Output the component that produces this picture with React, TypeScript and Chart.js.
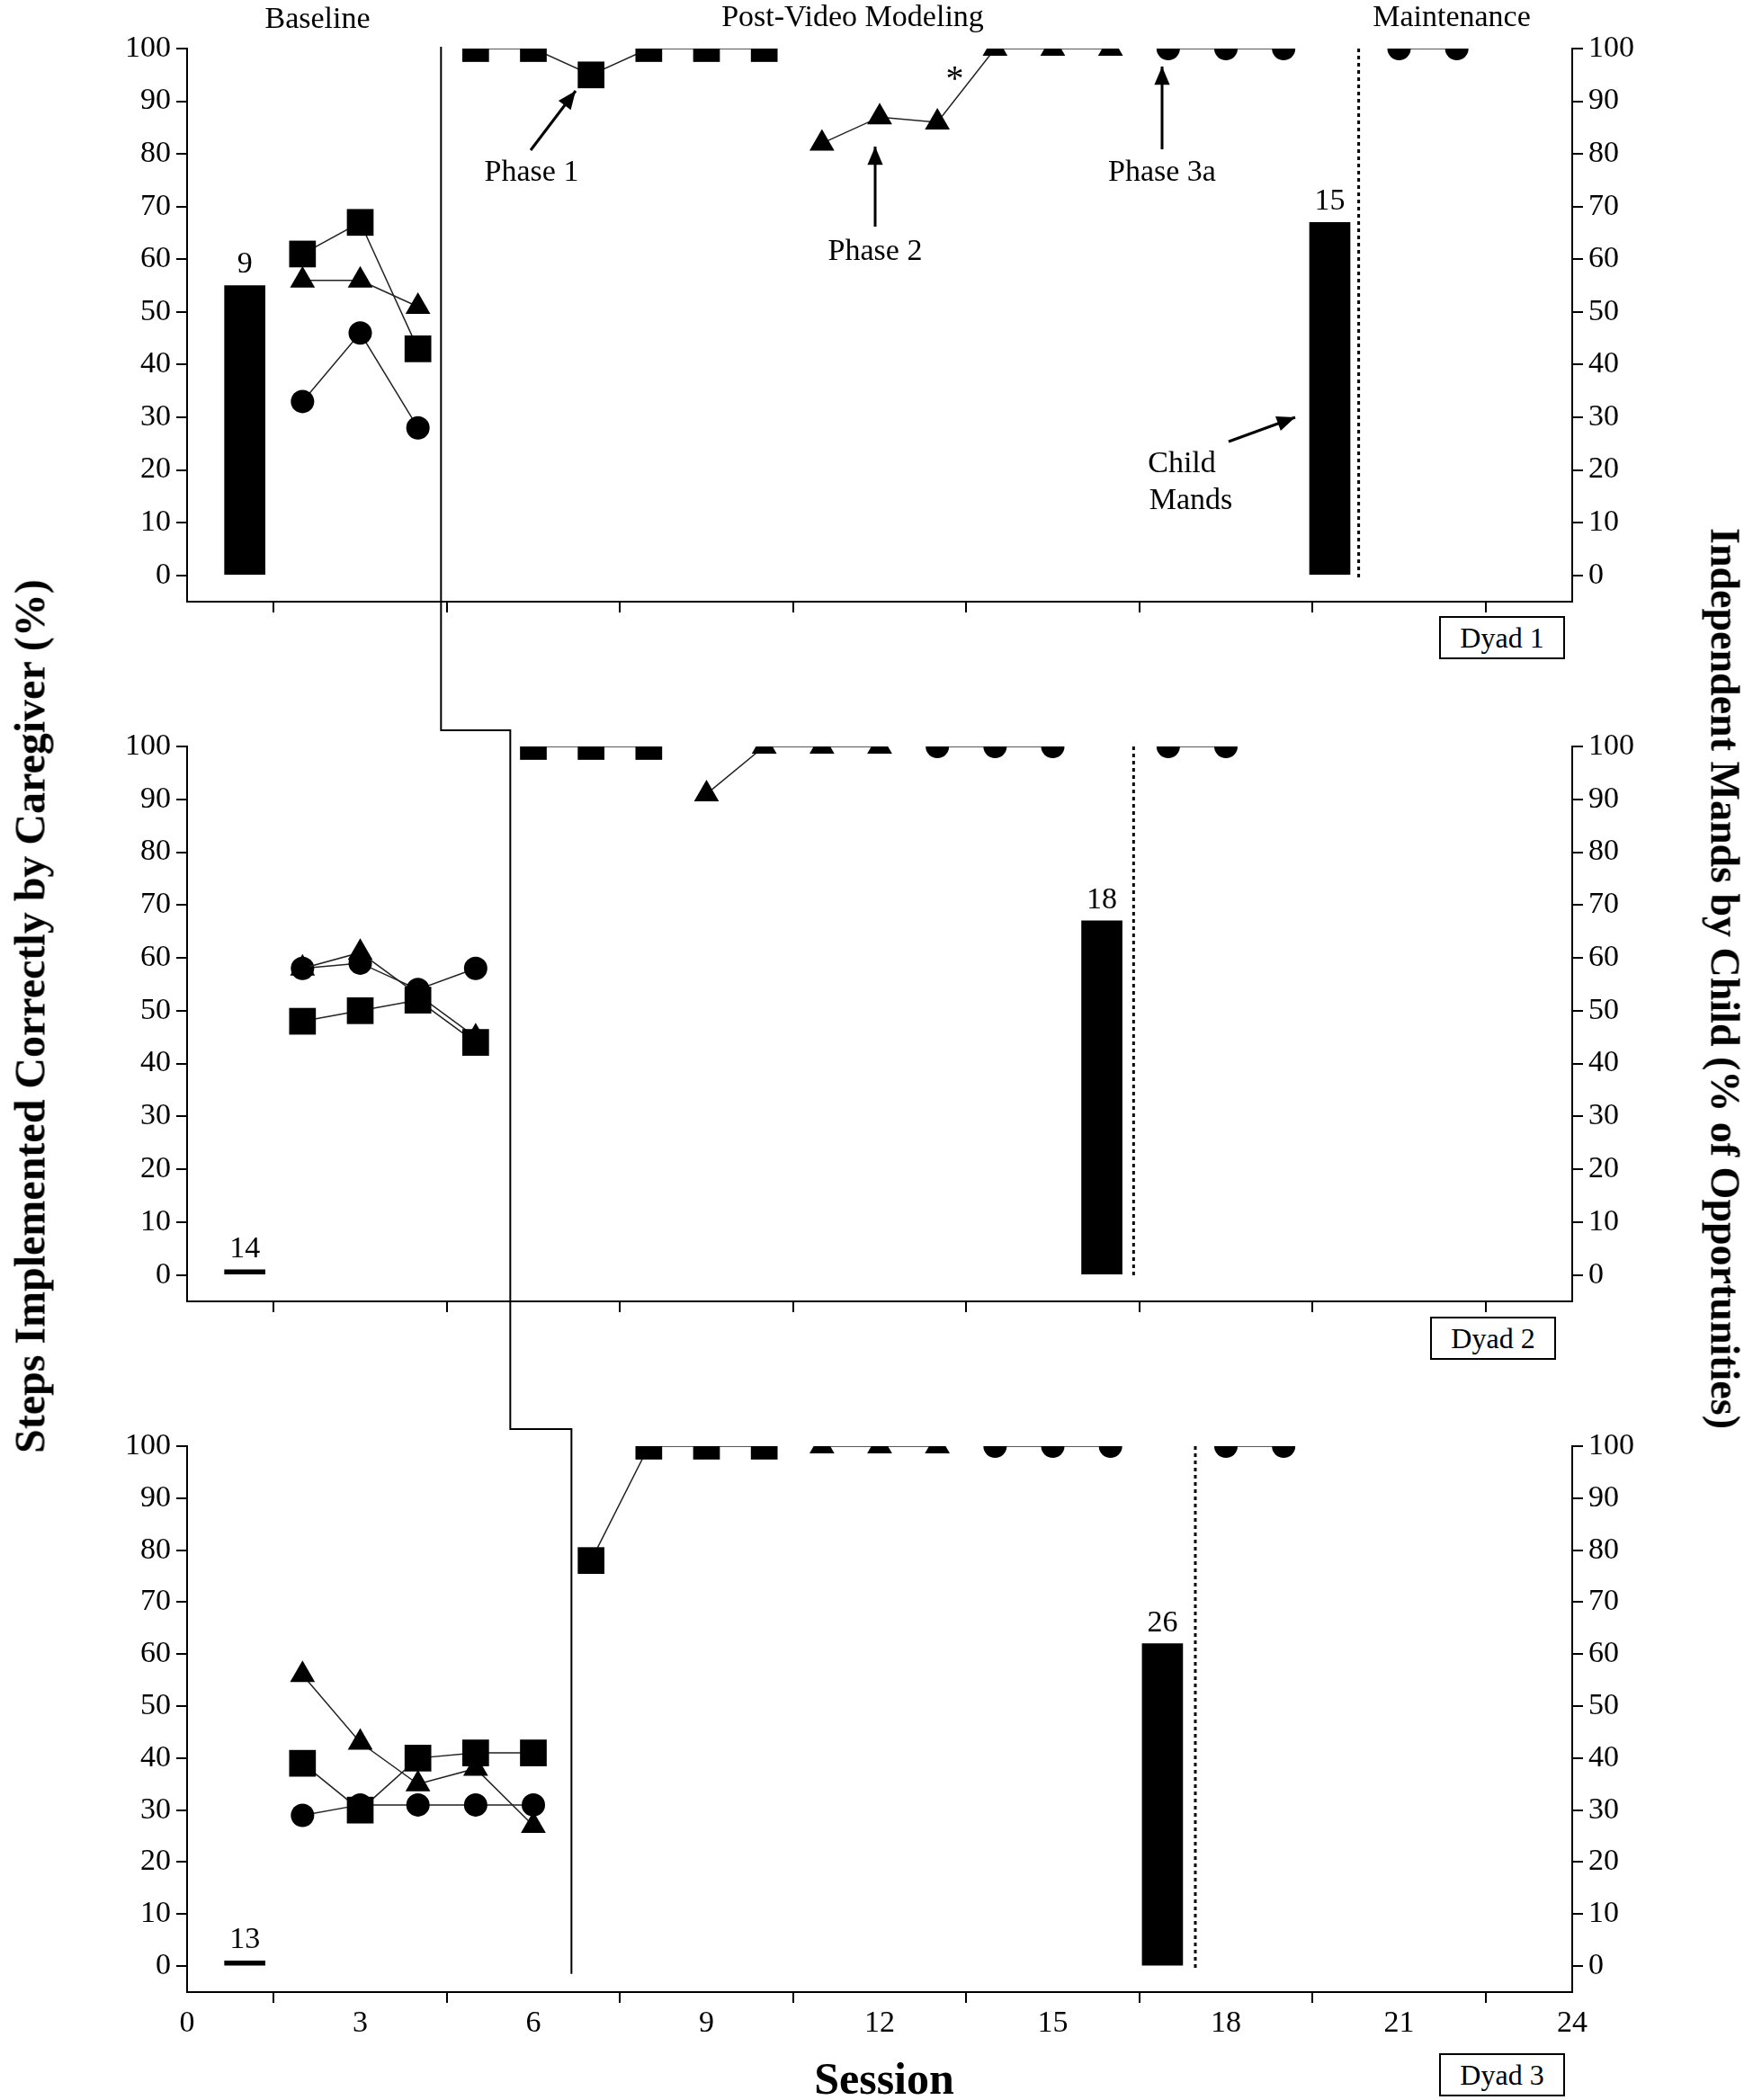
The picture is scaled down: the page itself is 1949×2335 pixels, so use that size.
import React, { useEffect, useRef } from "react";
import { Chart, registerables } from "chart.js";
Chart.register(...registerables);

const FONT = "'Liberation Serif', 'Times New Roman', serif";

// ---------- Dyad 1 ----------
const d1BarX = [1, 19.8];
const d1BarY = [55, 67];
const d1BarLabels = ["9", "15"];
const d1SqBaseX = [2, 3, 4];
const d1SqBaseY = [61, 67, 43];
const d1TriBaseX = [2, 3, 4];
const d1TriBaseY = [56, 56, 51];
const d1CirBaseX = [2, 3, 4];
const d1CirBaseY = [33, 46, 28];
const d1SqPostX = [5, 6, 7, 8, 9, 10];
const d1SqPostY = [100, 100, 95, 100, 100, 100];
const d1TriPostX = [11, 12, 13, 14, 15, 16];
const d1TriPostY = [82, 87, 86, 100, 100, 100];
const d1CirPostX = [17, 18, 19];
const d1CirPostY = [100, 100, 100];
const d1CirMaintX = [21, 22];
const d1CirMaintY = [100, 100];

// ---------- Dyad 2 ----------
const d2BarX = [1, 15.85];
const d2BarY = [1, 67];
const d2BarLabels = ["14", "18"];
const d2SqBaseX = [2, 3, 4, 5];
const d2SqBaseY = [48, 50, 52, 44];
const d2TriBaseX = [2, 3, 4, 5];
const d2TriBaseY = [58, 61, 53, 45];
const d2CirBaseX = [2, 3, 4, 5];
const d2CirBaseY = [58, 59, 54, 58];
const d2SqPostX = [6, 7, 8];
const d2SqPostY = [100, 100, 100];
const d2TriPostX = [9, 10, 11, 12];
const d2TriPostY = [91, 100, 100, 100];
const d2CirPostX = [13, 14, 15];
const d2CirPostY = [100, 100, 100];
const d2CirMaintX = [17, 18];
const d2CirMaintY = [100, 100];

// ---------- Dyad 3 ----------
const d3BarX = [1, 16.9];
const d3BarY = [1, 62];
const d3BarLabels = ["13", "26"];
const d3SqBaseX = [2, 3, 4, 5, 6];
const d3SqBaseY = [39, 30, 40, 41, 41];
const d3TriBaseX = [2, 3, 4, 5, 6];
const d3TriBaseY = [56, 43, 35, 38, 27];
const d3CirBaseX = [2, 3, 4, 5, 6];
const d3CirBaseY = [29, 31, 31, 31, 31];
const d3SqPostX = [7, 8, 9, 10];
const d3SqPostY = [78, 100, 100, 100];
const d3TriPostX = [11, 12, 13];
const d3TriPostY = [100, 100, 100];
const d3CirPostX = [14, 15, 16];
const d3CirPostY = [100, 100, 100];
const d3CirMaintX = [18, 19];
const d3CirMaintY = [100, 100];

const xTicks = [0, 3, 6, 9, 12, 15, 18, 21, 24];
const yTicks = [0, 10, 20, 30, 40, 50, 60, 70, 80, 90, 100];

// phase change lines (session units)
const phase1X = 4.4;
const phase2X = 5.6;
const phase3X = 6.66;
const maintX = [20.3, 16.4, 17.47];

const pts = (xs: number[], ys: number[]) => xs.map((x, i) => ({ x, y: ys[i] }));

function lineDs(xs: number[], ys: number[], style: string) {
  const r = style === "rect" ? 21 : style === "triangle" ? 16 : 13;
  return {
    type: "line" as const,
    data: pts(xs, ys),
    borderColor: "#222",
    borderWidth: 1.5,
    pointStyle: style,
    pointRadius: r,
    pointBackgroundColor: "#000",
    pointBorderColor: "#000",
    pointBorderWidth: 0,
    showLine: true,
    fill: false,
  };
}

type Panel = {
  bars: [number[], number[], string[]];
  series: [number[], number[], string][];
  showXLabels: boolean;
  height: number;
  padTop: number;
  xAxisH: number;
  padBottom: number;
  maint: number;
  phase: (ctx: CanvasRenderingContext2D, xs: any, ys: any, ca: any, h: number) => void;
  extra?: (ctx: CanvasRenderingContext2D, xs: any, ys: any) => void;
};

function arrow(ctx: CanvasRenderingContext2D, x1: number, y1: number, x2: number, y2: number) {
  ctx.beginPath();
  ctx.moveTo(x1, y1);
  ctx.lineTo(x2, y2);
  ctx.lineWidth = 3;
  ctx.stroke();
  const a = Math.atan2(y2 - y1, x2 - x1);
  const L = 22, W = 0.4;
  ctx.beginPath();
  ctx.moveTo(x2, y2);
  ctx.lineTo(x2 - L * Math.cos(a - W), y2 - L * Math.sin(a - W));
  ctx.lineTo(x2 - L * Math.cos(a + W), y2 - L * Math.sin(a + W));
  ctx.closePath();
  ctx.fill();
}

const panels: Panel[] = [
  {
    bars: [d1BarX, d1BarY, d1BarLabels],
    series: [
      [d1SqBaseX, d1SqBaseY, "rect"],
      [d1TriBaseX, d1TriBaseY, "triangle"],
      [d1CirBaseX, d1CirBaseY, "circle"],
      [d1SqPostX, d1SqPostY, "rect"],
      [d1TriPostX, d1TriPostY, "triangle"],
      [d1CirPostX, d1CirPostY, "circle"],
      [d1CirMaintX, d1CirMaintY, "circle"],
    ],
    showXLabels: false,
    height: 800,
    padTop: 54,
    xAxisH: 30,
    padBottom: 101,
    maint: maintX[0],
    phase: (ctx, xs, ys, ca, h) => {
      const x = xs.getPixelForValue(phase1X);
      ctx.beginPath();
      ctx.moveTo(x, ys.getPixelForValue(100) - 2);
      ctx.lineTo(x, h);
      ctx.stroke();
    },
    extra: (ctx, xs, ys) => {
      ctx.font = `34px ${FONT}`;
      ctx.textAlign = "center";
      ctx.textBaseline = "middle";
      ctx.fillText("Baseline", 353, 22);
      ctx.fillText("Post-Video Modeling", 948, 20);
      ctx.fillText("Maintenance", 1614, 20);
      ctx.fillText("Phase 1", 591, 192);
      ctx.fillText("Phase 2", 973, 280);
      ctx.fillText("Phase 3a", 1292, 192);
      ctx.fillText("Child", 1314, 516);
      ctx.fillText("Mands", 1324, 557);
      ctx.font = `40px ${FONT}`;
      ctx.fillText("*", xs.getPixelForValue(13.3), ys.getPixelForValue(94));
      arrow(ctx, 590, 167, 640, 101);
      arrow(ctx, 973, 252, 973, 163);
      arrow(ctx, 1292, 166, 1292, 74);
      arrow(ctx, 1366, 491, 1440, 464);
    },
  },
  {
    bars: [d2BarX, d2BarY, d2BarLabels],
    series: [
      [d2SqBaseX, d2SqBaseY, "rect"],
      [d2TriBaseX, d2TriBaseY, "triangle"],
      [d2CirBaseX, d2CirBaseY, "circle"],
      [d2SqPostX, d2SqPostY, "rect"],
      [d2TriPostX, d2TriPostY, "triangle"],
      [d2CirPostX, d2CirPostY, "circle"],
      [d2CirMaintX, d2CirMaintY, "circle"],
    ],
    showXLabels: false,
    height: 780,
    padTop: 30,
    xAxisH: 30,
    padBottom: 103,
    maint: maintX[1],
    phase: (ctx, xs, ys, ca, h) => {
      const x1 = xs.getPixelForValue(phase1X);
      const x2 = xs.getPixelForValue(phase2X);
      ctx.beginPath();
      ctx.moveTo(x1, 0);
      ctx.lineTo(x1, 12);
      ctx.lineTo(x2, 12);
      ctx.lineTo(x2, h);
      ctx.stroke();
    },
  },
  {
    bars: [d3BarX, d3BarY, d3BarLabels],
    series: [
      [d3SqBaseX, d3SqBaseY, "rect"],
      [d3TriBaseX, d3TriBaseY, "triangle"],
      [d3CirBaseX, d3CirBaseY, "circle"],
      [d3SqPostX, d3SqPostY, "rect"],
      [d3TriPostX, d3TriPostY, "triangle"],
      [d3CirPostX, d3CirPostY, "circle"],
      [d3CirMaintX, d3CirMaintY, "circle"],
    ],
    showXLabels: true,
    height: 755,
    padTop: 28,
    xAxisH: 60,
    padBottom: 60,
    maint: maintX[2],
    phase: (ctx, xs, ys, ca, h) => {
      const x2 = xs.getPixelForValue(phase2X);
      const x3 = xs.getPixelForValue(phase3X);
      ctx.beginPath();
      ctx.moveTo(x2, 0);
      ctx.lineTo(x2, 9);
      ctx.lineTo(x3, 9);
      ctx.lineTo(x3, ys.getPixelForValue(-1.5));
      ctx.stroke();
    },
  },
];

const tops = [0, 800, 1580];

function PanelChart({ p, top }: { p: Panel; top: number }) {
  const ref = useRef<HTMLCanvasElement>(null);
  useEffect(() => {
    const [bx, by, bl] = p.bars;
    const datasets: any[] = [
      {
        type: "bar",
        data: pts(bx, by),
        backgroundColor: "#000",
        barThickness: 45,
        order: 10,
      },
      ...p.series.map(([xs, ys, s]) => lineDs(xs, ys, s)),
    ];
    const yAxis = (pos: "left" | "right", w: number) => ({
      type: "linear",
      position: pos,
      min: -5,
      max: 100,
      afterBuildTicks: (sc: any) => {
        sc.ticks = yTicks.map((v) => ({ value: v }));
      },
      afterFit: (sc: any) => {
        sc.width = w;
      },
      grid: { drawOnChartArea: false, drawTicks: true, tickLength: 12, color: "#000", lineWidth: 2 },
      border: { display: true, color: "#000", width: 2 },
      ticks: { color: "#000", font: { family: FONT, size: 34 }, padding: 6 },
    });
    const overlay = {
      id: "overlay",
      afterDatasetsDraw(chart: any) {
        const ctx = chart.ctx as CanvasRenderingContext2D;
        const xs = chart.scales.x;
        const ys = chart.scales.y;
        ctx.save();
        ctx.strokeStyle = "#000";
        ctx.fillStyle = "#000";
        ctx.lineWidth = 2;
        p.phase(ctx, xs, ys, chart.chartArea, chart.height);
        // maintenance dotted line
        ctx.setLineDash([4, 4]);
        ctx.lineWidth = 3;
        const mx = xs.getPixelForValue(p.maint);
        ctx.beginPath();
        ctx.moveTo(mx, ys.getPixelForValue(100));
        ctx.lineTo(mx, ys.getPixelForValue(-0.5));
        ctx.stroke();
        ctx.setLineDash([]);
        // bar labels
        ctx.font = `34px ${FONT}`;
        ctx.textAlign = "center";
        ctx.textBaseline = "bottom";
        const meta = chart.getDatasetMeta(0);
        meta.data.forEach((el: any, i: number) => {
          ctx.fillText(bl[i], el.x, el.y - 6);
        });
        if (p.extra) p.extra(ctx, xs, ys);
        ctx.restore();
      },
    };
    const chart = new Chart(ref.current!, {
      type: "bar",
      data: { datasets },
      plugins: [overlay],
      options: {
        animation: false,
        responsive: false,
        devicePixelRatio: 1,
        layout: { padding: { top: p.padTop, bottom: p.padBottom, left: 0, right: 0 } },
        plugins: { legend: { display: false }, tooltip: { enabled: false } },
        scales: {
          x: {
            type: "linear",
            min: 0,
            max: 24,
            offset: false,
            afterBuildTicks: (sc: any) => {
              sc.ticks = xTicks.map((v) => ({ value: v }));
            },
            afterFit: (sc: any) => {
              sc.height = p.xAxisH;
            },
            grid: { drawOnChartArea: false, drawTicks: true, tickLength: 12, color: "#000", lineWidth: 2 },
            border: { display: true, color: "#000", width: 2 },
            ticks: {
              color: "#000",
              font: { family: FONT, size: 34 },
              maxRotation: 0,
              callback: (v: any) => (p.showXLabels ? String(v) : ""),
            },
          },
          y: yAxis("left", 208) as any,
          y2: yAxis("right", 201) as any,
        },
      } as any,
    });
    return () => chart.destroy();
  }, []);
  return (
    <canvas
      ref={ref}
      width={1949}
      height={p.height}
      style={{ position: "absolute", left: 0, top, width: 1949, height: p.height }}
    />
  );
}

const dyadBox = (label: string, left: number, top: number) => (
  <div
    key={label}
    style={{
      position: "absolute",
      left,
      top,
      width: 140,
      height: 48,
      border: "2px solid #000",
      boxSizing: "border-box",
      font: `32px ${FONT}`,
      display: "flex",
      alignItems: "center",
      justifyContent: "center",
      background: "#fff",
    }}
  >
    {label}
  </div>
);

export default function App() {
  return (
    <div style={{ position: "absolute", left: 0, top: 0, width: 1949, height: 2335, background: "#fff", overflow: "hidden" }}>
      {panels.map((p, i) => (
        <PanelChart key={i} p={p} top={tops[i]} />
      ))}
      {dyadBox("Dyad 1", 1600, 685)}
      {dyadBox("Dyad 2", 1590, 1464)}
      {dyadBox("Dyad 3", 1600, 2283)}
      <div
        style={{
          position: "absolute",
          left: 33,
          top: 1130,
          transform: "translate(-50%, -50%) rotate(-90deg)",
          whiteSpace: "nowrap",
          font: `bold 48px ${FONT}`,
        }}
      >
        Steps Implemented Correctly by Caregiver (%)
      </div>
      <div
        style={{
          position: "absolute",
          left: 1918,
          top: 1088,
          transform: "translate(-50%, -50%) rotate(90deg)",
          whiteSpace: "nowrap",
          font: `bold 46px ${FONT}`,
        }}
      >
        Independent Mands by Child (% of Opportunities)
      </div>
      <div
        style={{
          position: "absolute",
          left: 983,
          top: 2311,
          transform: "translate(-50%, -50%)",
          whiteSpace: "nowrap",
          font: `bold 50px ${FONT}`,
        }}
      >
        Session
      </div>
    </div>
  );
}
